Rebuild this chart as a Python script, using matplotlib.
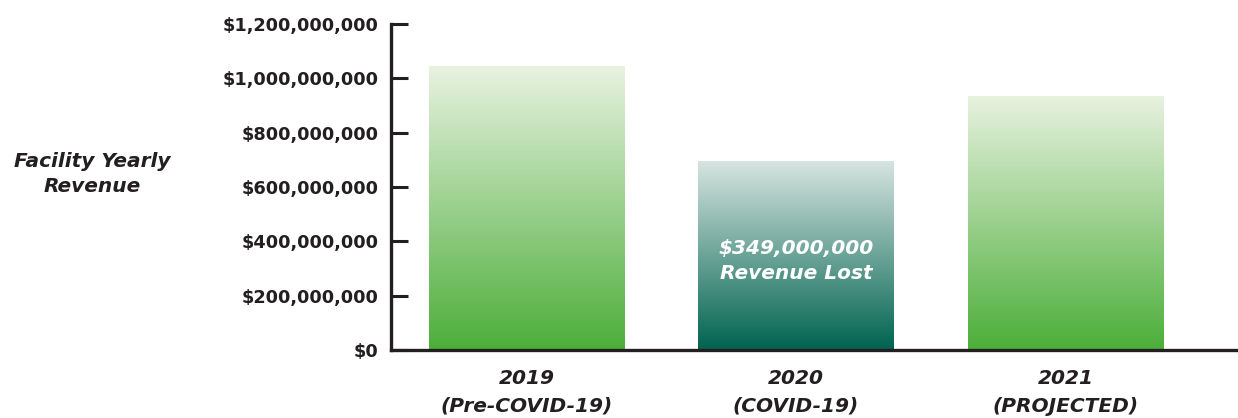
import numpy as np
import matplotlib
matplotlib.use("Agg")
import matplotlib.pyplot as plt
from matplotlib.colors import LinearSegmentedColormap
from matplotlib.ticker import FuncFormatter

# data
years = ["2019", "2020", "2021"]
periods = ["(Pre-COVID-19)", "(COVID-19)", "(PROJECTED)"]
revenue = [1045000000, 696000000, 935000000]
lost_label = "$349,000,000\nRevenue Lost"

# gradients: (top colour, bottom colour)
green = ("#e8f2e0", "#4cae39")
teal = ("#d8e5e1", "#00634f")
bar_grads = [green, teal, green]

dark = "#231f20"
plt.rcParams["font.family"] = ["DejaVu Sans"]

fig = plt.figure(figsize=(12.38, 4.18), dpi=100)
ax = fig.add_axes([0.3158, 0.1627, 1 - 0.3158, 0.9426 - 0.1627])

x = np.arange(len(years))
bars = ax.bar(x, revenue, width=0.7236, color="none", edgecolor="none")

# paint a vertical gradient inside each bar
grad = np.linspace(1, 0, 256).reshape(-1, 1)
for b, (top, bottom) in zip(bars, bar_grads):
    cmap = LinearSegmentedColormap.from_list("g", [bottom, top])
    x0, w, h = b.get_x(), b.get_width(), b.get_height()
    im = ax.imshow(grad, cmap=cmap, aspect="auto", extent=[x0, x0 + w, 0, h],
                   origin="upper", zorder=1)
    im.set_clip_path(b)

ax.set_xlim(-0.5028, 2.640)
ax.set_ylim(0, 1.2e9)

ax.yaxis.set_major_formatter(FuncFormatter(lambda v, p: f"${v:,.0f}"))
ax.set_yticks(np.arange(0, 1.2e9 + 1, 2e8))
for lbl in ax.get_yticklabels():
    lbl.set_fontweight("bold")
ax.tick_params(axis="y", direction="in", length=12, width=2.2, colors=dark,
               labelsize=12.8, pad=9)

ax.set_xticks(x)
ax.set_xticklabels([f"{y}\n{p}" for y, p in zip(years, periods)],
                   fontsize=14.5, fontweight="bold", fontstyle="italic",
                   color=dark, linespacing=1.55)
ax.tick_params(axis="x", length=0, pad=14)

for s in ["top", "right"]:
    ax.spines[s].set_visible(False)
for s in ["left", "bottom"]:
    ax.spines[s].set_linewidth(2.4)
    ax.spines[s].set_color(dark)

# annotation inside the 2020 bar
ax.text(x[1], 3.28e8, lost_label, ha="center", va="center", color="white",
        fontsize=14.5, fontweight="bold", fontstyle="italic", linespacing=1.4,
        zorder=3)

fig.text(92 / 1238, 1 - 174 / 418, "Facility Yearly\nRevenue", ha="center",
         va="center", fontsize=14.5, fontweight="bold", fontstyle="italic",
         color=dark, linespacing=1.4)

fig.savefig("out.png", dpi=100)
